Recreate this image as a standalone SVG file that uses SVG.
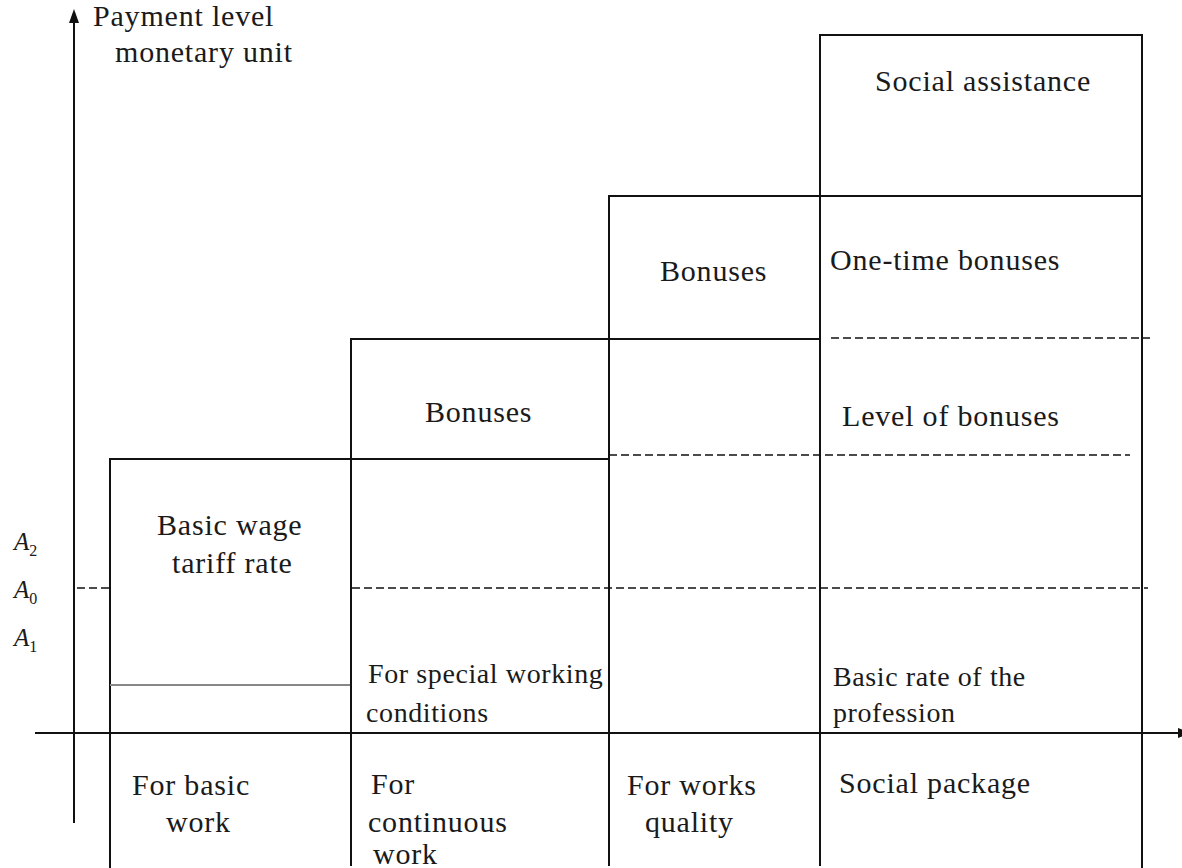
<svg xmlns="http://www.w3.org/2000/svg" width="1182" height="868" viewBox="0 0 1182 868">
<style>
  text { font-family: "Liberation Serif", "Times New Roman", serif; font-size: 30px; fill: #1a1a1a; letter-spacing: 0.8px; }
  .sm { font-size: 28px; letter-spacing: 0.6px; }
  .alab { font-style: italic; font-size: 25px; letter-spacing: 0; }
  .sub { font-style: normal; font-size: 16px; }
  .solid { stroke: #111; stroke-width: 2; fill: none; }
  .grey { stroke: #888; stroke-width: 2; fill: none; }
  .dash { stroke: #111; stroke-width: 1.6; fill: none; stroke-dasharray: 8 4; }
</style>
<rect width="1182" height="868" fill="#fff"/>

<g id="axes">
  <line class="solid" x1="74" y1="22" x2="74" y2="823"/>
  <polygon points="74,9 69,23 79,23" fill="#111"/>
  <line class="solid" x1="35" y1="733" x2="1182" y2="733"/>
  <polygon points="1192,733 1178,728 1178,738" fill="#111"/>
  <text id="y-label" x="93" y="26">Payment level</text>
  <text x="115" y="62">monetary unit</text>
  <text class="alab" x="14" y="550">A<tspan class="sub" dy="6">2</tspan></text>
  <text class="alab" x="14" y="598">A<tspan class="sub" dy="6">0</tspan></text>
  <text class="alab" x="14" y="646">A<tspan class="sub" dy="6">1</tspan></text>
</g>

<g id="connectors">
  <!-- column 1 -->
  <line class="solid" x1="110" y1="459" x2="110" y2="868"/>
  <line class="solid" x1="109" y1="459" x2="609" y2="459"/>
  <line class="grey" x1="110" y1="685" x2="351" y2="685"/>
  <!-- column 2 -->
  <line class="solid" x1="351" y1="339" x2="351" y2="866"/>
  <line class="solid" x1="350" y1="339" x2="820" y2="339"/>
  <!-- column 3 -->
  <line class="solid" x1="609" y1="196" x2="609" y2="866"/>
  <line class="solid" x1="608" y1="196" x2="1142" y2="196"/>
  <!-- column 4 -->
  <line class="solid" x1="820" y1="35" x2="820" y2="866"/>
  <line class="solid" x1="819" y1="35" x2="1143" y2="35"/>
  <line class="solid" x1="1142" y1="34" x2="1142" y2="868"/>
  <!-- dashed levels -->
  <line class="dash" x1="831" y1="338" x2="1150" y2="338"/>
  <line class="dash" x1="609" y1="455" x2="1130" y2="455"/>
  <line class="dash" x1="352" y1="588" x2="1148" y2="588"/>
  <line class="dash" x1="77" y1="588" x2="110" y2="588"/>
</g>

<g id="col1">
  <text x="157" y="535">Basic wage</text>
  <text x="172" y="573">tariff rate</text>
  <text x="132" y="795">For basic</text>
  <text x="166" y="832">work</text>
</g>

<g id="col2">
  <text x="425" y="422">Bonuses</text>
  <text class="sm" x="368" y="683">For special working</text>
  <text class="sm" x="366" y="722">conditions</text>
  <text x="371" y="794">For</text>
  <text x="368" y="832">continuous</text>
  <text x="373" y="864">work</text>
</g>

<g id="col3">
  <text x="660" y="281">Bonuses</text>
  <text x="627" y="795">For works</text>
  <text x="645" y="832">quality</text>
</g>

<g id="col4">
  <text x="875" y="91">Social assistance</text>
  <text x="830" y="270">One-time bonuses</text>
  <text x="842" y="426">Level of bonuses</text>
  <text class="sm" x="833" y="686">Basic rate of the</text>
  <text class="sm" x="833" y="722">profession</text>
  <text x="839" y="793">Social package</text>
</g>
</svg>
